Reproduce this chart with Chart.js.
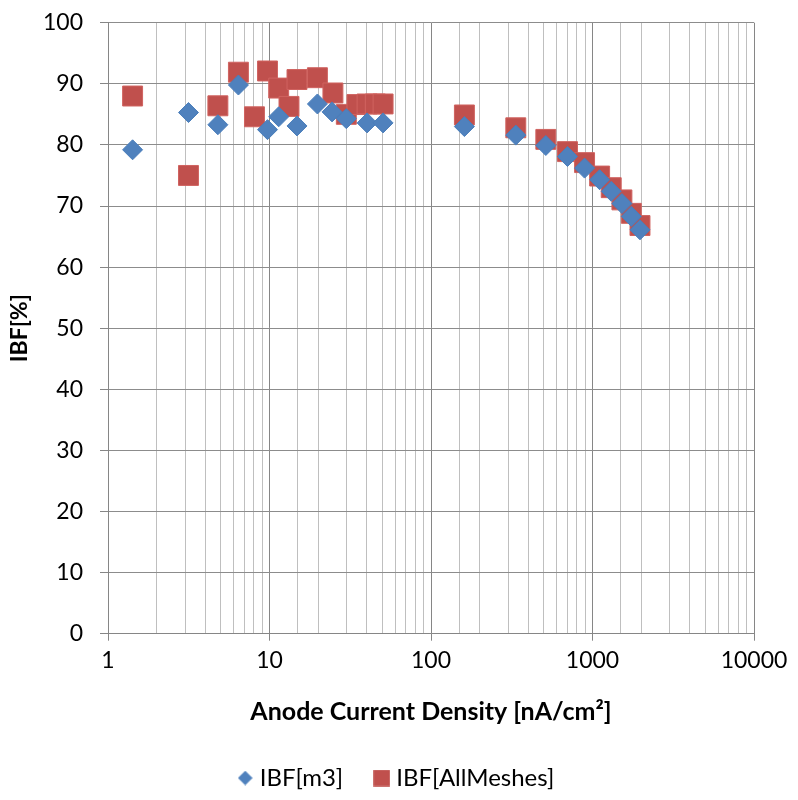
<!DOCTYPE html>
<html>
<head>
<meta charset="utf-8">
<script src="https://cdn.jsdelivr.net/npm/chart.js@4/dist/chart.umd.min.js"></script>
<style>
html,body{margin:0;padding:0;background:#fff;}
#wrap{width:798px;height:800px;}
</style>
</head>
<body>
<div id="wrap"><canvas id="c" width="798" height="800"></canvas></div>
<script>
const m3X = [1.42, 3.15, 4.79, 6.42, 9.72, 11.4, 14.8, 19.8, 24.4, 29.9, 40.2, 50.5, 161, 335, 514, 700, 893, 1107, 1306, 1521, 1739, 1968];
const m3Y = [79.2, 85.3, 83.3, 89.8, 82.5, 84.6, 83.1, 86.7, 85.4, 84.3, 83.6, 83.6, 83.0, 81.6, 79.9, 78.1, 76.2, 74.3, 72.4, 70.4, 68.3, 66.1];
const allX = [1.42, 3.15, 4.79, 6.42, 8.07, 9.72, 11.4, 13.2, 14.8, 19.8, 24.7, 29.9, 34.8, 40.2, 45.2, 50.5, 161, 335, 514, 700, 893, 1107, 1306, 1521, 1739, 1968];
const allY = [88.0, 75.0, 86.4, 91.9, 84.6, 92.1, 89.3, 86.3, 90.7, 91.0, 88.5, 85.0, 86.6, 86.7, 86.7, 86.7, 84.9, 82.8, 80.9, 78.9, 77.1, 74.9, 73.0, 71.0, 68.8, 66.8];
const xTickLabels = [1, 10, 100, 1000, 10000];
const yTicks = [0, 10, 20, 30, 40, 50, 60, 70, 80, 90, 100];
const seriesNames = ['IBF[m3]', 'IBF[AllMeshes]'];
const xTitle = 'Anode Current Density [nA/cm\u00B2]';
const yTitle = 'IBF[%]';

const BLUE = '#4F81BD', RED = '#C0504D';
const toPts = (xs, ys) => xs.map((x, i) => ({x: x, y: ys[i]}));
const isMajor = v => xTickLabels.indexOf(Math.round(v)) >= 0 && Math.abs(v - Math.round(v)) < 1e-6;
const FONT = 'Lato, "Open Sans", sans-serif';

// legend marker images
function markerCanvas(kind) {
  const cv = document.createElement('canvas');
  const s = kind === 'diamond' ? 15 : 17;
  cv.width = s; cv.height = s;
  const g = cv.getContext('2d');
  if (kind === 'diamond') {
    g.fillStyle = BLUE;
    g.beginPath(); g.moveTo(7.5, 0.2); g.lineTo(14.8, 7.5); g.lineTo(7.5, 14.8); g.lineTo(0.2, 7.5); g.closePath(); g.fill();
  } else {
    g.fillStyle = RED;
    g.fillRect(0.2, 0.2, 16.6, 16.6);
  }
  return cv;
}
const legendMarkers = [markerCanvas('diamond'), markerCanvas('square')];

new Chart(document.getElementById('c'), {
  type: 'scatter',
  data: {
    datasets: [
      {label: seriesNames[0], data: toPts(m3X, m3Y), pointStyle: 'rectRot', pointRadius: 10, pointHoverRadius: 10,
       backgroundColor: BLUE, borderColor: '#4A7EBB', borderWidth: 1},
      {label: seriesNames[1], data: toPts(allX, allY), pointStyle: 'rect', pointRadius: 14.1, pointHoverRadius: 14.1,
       backgroundColor: RED, borderColor: '#D06360', borderWidth: 1}
    ]
  },
  options: {
    responsive: false,
    animation: false,
    events: [],
    layout: {autoPadding: false, padding: {top: 22.7, right: 44, left: 43, bottom: 0}},
    plugins: {
      tooltip: {enabled: false},
      legend: {
        position: 'bottom',
        labels: {
          usePointStyle: true,
          boxHeight: 13,
          boxWidth: 5,
          padding: 36,
          color: '#000',
          font: {family: FONT, size: 24},
          generateLabels: chart => {
            const items = Chart.defaults.plugins.legend.labels.generateLabels(chart);
            items.forEach((it, i) => { it.pointStyle = legendMarkers[i]; });
            return items;
          }
        }
      }
    },
    scales: {
      x: {
        type: 'logarithmic',
        min: 1, max: 10000,
        border: {display: true, color: '#868686', width: 1},
        grid: {
          color: c => (c.tick && isMajor(c.tick.value)) ? '#868686' : '#BFBFBF',
          tickColor: c => (c.tick && isMajor(c.tick.value)) ? '#868686' : 'rgba(0,0,0,0)',
          tickLength: 7,
          lineWidth: 1
        },
        ticks: {
          autoSkip: false,
          maxRotation: 0,
          padding: 6,
          color: '#000',
          font: {family: FONT, size: 23},
          callback: v => isMajor(v) ? String(Math.round(v)) : ''
        },
        title: {display: true, text: xTitle, color: '#000', font: {family: FONT, size: 25, weight: 'bold'}, padding: {top: 16.7, bottom: 3}}
      },
      y: {
        min: 0, max: 100,
        afterFit: s => { s.width = 65; },
        border: {display: true, color: '#868686', width: 1},
        grid: {color: '#8C8C8C', tickColor: '#868686', tickLength: 25, tickBorderDash: [0, 17, 8, 200]},
        ticks: {
          stepSize: 10,
          padding: 0,
          color: '#000',
          font: {family: FONT, size: 23},
          callback: v => yTicks.indexOf(v) >= 0 ? String(v) : ''
        },
        title: {display: true, text: yTitle, color: '#000', font: {family: FONT, size: 23, weight: 'bold'}, padding: {top: -37, bottom: 4}}
      }
    }
  }
});
</script>
</body>
</html>
